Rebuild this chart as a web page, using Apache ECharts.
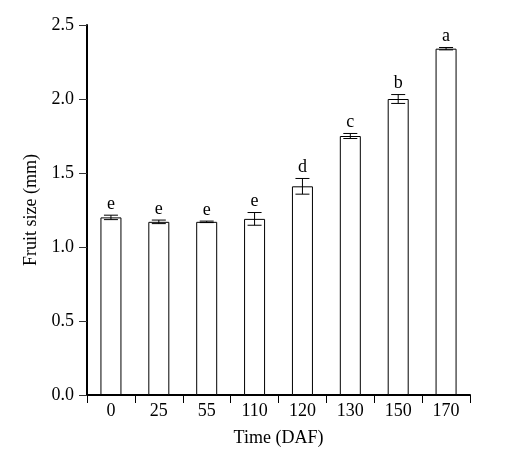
<!DOCTYPE html>
<html>
<head>
<meta charset="utf-8">
<script src="https://cdn.jsdelivr.net/npm/echarts@6/dist/echarts.min.js"></script>
<style>html,body{margin:0;padding:0;background:#fff;}#c{width:507px;height:458px;}</style>
</head>
<body>
<div id="c"></div>
<script>
var categories = ['0', '25', '55', '110', '120', '130', '150', '170'];
var sizes = [1.20, 1.17, 1.17, 1.19, 1.41, 1.75, 2.00, 2.34];
var errors = [0.015, 0.012, 0.005, 0.043, 0.053, 0.017, 0.03, 0.008];
var letters = ['e', 'e', 'e', 'e', 'd', 'c', 'b', 'a'];
var yTicks = [0, 0.5, 1.0, 1.5, 2.0, 2.5];

var FONT = '"Liberation Serif", "Times New Roman", serif';
var chart = echarts.init(document.getElementById('c'));
var errData = categories.map(function (c, i) { return [i, sizes[i], errors[i], letters[i]]; });

chart.setOption({
  animation: false,
  grid: { left: 87, right: 37, top: 25, bottom: 63 },
  xAxis: {
    type: 'category',
    data: categories,
    name: 'Time (DAF)',
    nameLocation: 'middle',
    nameGap: 34,
    nameTextStyle: { fontFamily: FONT, fontSize: 18, color: '#000' },
    axisLine: { lineStyle: { color: '#000', width: 2 } },
    axisTick: { show: true, length: 8, lineStyle: { color: '#000', width: 1 } },
    axisLabel: { fontFamily: FONT, fontSize: 18, color: '#000', margin: 7 }
  },
  yAxis: {
    type: 'value',
    min: yTicks[0],
    max: yTicks[yTicks.length - 1],
    interval: 0.5,
    name: 'Fruit size (mm)',
    nameLocation: 'middle',
    nameGap: 44,
    nameTextStyle: { fontFamily: FONT, fontSize: 18, color: '#000' },
    splitLine: { show: false },
    axisLine: { show: true, lineStyle: { color: '#000', width: 2 } },
    axisTick: { show: true, length: 8, lineStyle: { color: '#333', width: 1 } },
    axisLabel: {
      fontFamily: FONT, fontSize: 18, color: '#000', margin: 13,
      formatter: function (v) { return v.toFixed(1); }
    }
  },
  series: [
    {
      type: 'bar',
      data: sizes,
      barWidth: 21,
      itemStyle: { color: '#fff', borderColor: '#000', borderWidth: 1 }
    },
    {
      type: 'custom',
      data: errData,
      z: 10,
      renderItem: function (params, api) {
        var x = api.value(0), v = api.value(1), e = api.value(2);
        var top = api.coord([x, v + e]);
        var bot = api.coord([x, v - e]);
        var hw = 7;
        var style = { stroke: '#000', lineWidth: 1 };
        return {
          type: 'group',
          children: [
            { type: 'line', shape: { x1: top[0], y1: top[1], x2: bot[0], y2: bot[1] }, style: style },
            { type: 'line', shape: { x1: top[0] - hw, y1: top[1], x2: top[0] + hw, y2: top[1] }, style: style },
            { type: 'line', shape: { x1: bot[0] - hw, y1: bot[1], x2: bot[0] + hw, y2: bot[1] }, style: style },
            {
              type: 'text',
              style: {
                text: api.value(3), x: top[0], y: top[1] - 2,
                align: 'center', verticalAlign: 'bottom',
                font: '18px ' + FONT, fill: '#000'
              }
            }
          ]
        };
      }
    }
  ]
});
</script>
</body>
</html>
